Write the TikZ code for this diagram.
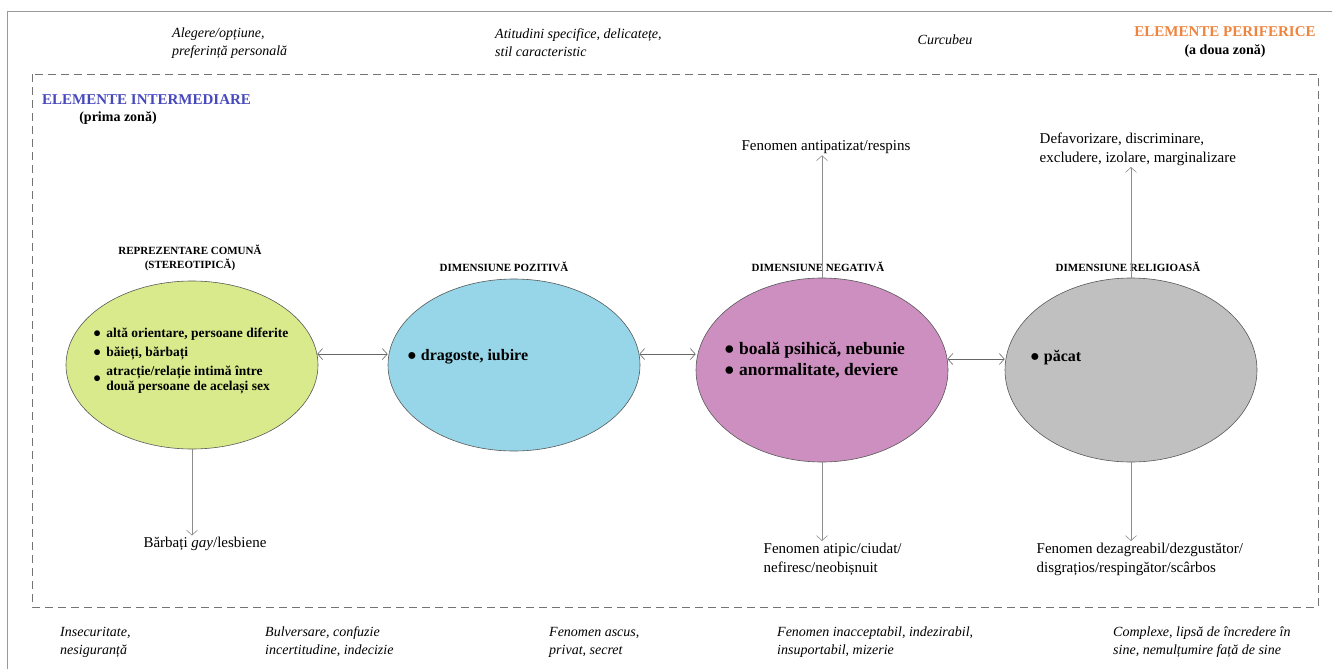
\documentclass[tikz,border=0pt]{standalone}
\usepackage{fontspec}
\setmainfont{Liberation Serif}
\usetikzlibrary{shapes.geometric,arrows.meta}
\definecolor{stereogreen}{RGB}{216,234,140}
\definecolor{posblue}{RGB}{150,214,232}
\definecolor{negpink}{RGB}{204,143,191}
\definecolor{relgray}{RGB}{192,192,192}
\definecolor{zoneblue}{RGB}{72,72,190}
\definecolor{zoneorange}{RGB}{238,132,62}
\tikzset{dim/.style={ellipse,draw=black!65,line width=0.6pt,minimum width=252pt,minimum height=172pt}}
\tikzset{ttl/.style={font=\bfseries\fontsize{11}{14}\selectfont,align=center,inner sep=0pt}}
\tikzset{itm/.style={font=\bfseries\fontsize{16}{21}\selectfont,align=left,anchor=west,inner sep=0pt}}
\tikzset{lbl/.style={font=\fontsize{15}{19}\selectfont,align=left,inner sep=1.5pt}}
\tikzset{per/.style={font=\itshape\fontsize{14}{18}\selectfont,align=left,anchor=west,inner sep=0pt}}
\tikzset{zone/.style={font=\bfseries\fontsize{15}{18}\selectfont,inner sep=0pt}}
\tikzset{arr/.style={draw=black!45,line width=0.6pt,-{Straight Barb[length=5pt,width=11pt]}}}
\tikzset{harr/.style={draw=black!60,line width=0.6pt,{Straight Barb[length=5pt,width=11pt]}-{Straight Barb[length=5pt,width=11pt]}}}

\begin{document}
\begin{tikzpicture}[x=1pt,y=-1pt]
      \useasboundingbox (0,0) rectangle (1332,669);
      % frames
      \draw[black!40,line width=1pt] (7,669) -- (7,12) -- (1332,12);
      \draw[black!55,line width=0.7pt,dash pattern=on 8pt off 5pt] (32,74) rectangle (1318,607);
      % peripheral elements
      \node[per] (alegere) at (172,43) {Alegere/opțiune,\\preferință personală};
      \node[per] (atitud) at (495,43) {Atitudini specifice, delicatețe,\\stil caracteristic};
      \node[per,anchor=center] (curcub) at (945,40) {Curcubeu};
      \node[zone,text=zoneorange] (periferic) at (1225,32) {ELEMENTE PERIFERICE};
      \node[zone,font=\bfseries\fontsize{14}{17}\selectfont] (doua) at (1225,51) {(a doua zonă)};
      \node[per] (insecur) at (60,642) {Insecuritate,\\nesiguranță};
      \node[per] (bulvers) at (265,642) {Bulversare, confuzie\\incertitudine, indecizie};
      \node[per] (ascus) at (549,642) {Fenomen ascus,\\privat, secret};
      \node[per] (inacc) at (777,642) {Fenomen inacceptabil, indezirabil,\\insuportabil, mizerie};
      \node[per] (complexe) at (1113,642) {Complexe, lipsă de încredere în\\sine, nemulțumire față de sine};
      % intermediate elements
      \node[zone,text=zoneblue,anchor=west] (intermed) at (42,100) {ELEMENTE INTERMEDIARE};
      \node[zone,font=\bfseries\fontsize{14}{17}\selectfont] (prima) at (118,118) {(prima zonă)};
      % dimensions
      \node[dim,fill=stereogreen,minimum height=168pt] (stereo) at (192,365) {};
      \node[dim,fill=posblue] (pozitiv) at (514,365) {};
      \node[dim,fill=negpink,minimum height=184pt] (negativ) at (822,370) {};
      \node[dim,fill=relgray,minimum height=184pt] (religios) at (1131,370) {};
      \node[ttl] (stereottl) at (190,258) {REPREZENTARE COMUNĂ\\(STEREOTIPICĂ)};
      \node[ttl] (pozttl) at (504,267) {DIMENSIUNE POZITIVĂ};
      \node[ttl] (negttl) at (818,267) {DIMENSIUNE NEGATIVĂ};
      \node[ttl] (relttl) at (1128,267) {DIMENSIUNE RELIGIOASĂ};
      \node[itm,font=\bfseries\fontsize{13.5}{18}\selectfont] (stereoitm) at (93,360)
        {\begin{tabular}{@{}l@{\hspace{5pt}}l@{}}
         ● & altă orientare, persoane diferite\\[1pt]
         ● & băieți, bărbați\\[1pt]
         ● & \begin{tabular}[c]{@{}l@{}}atracție/relație intimă între\\[-3pt] două persoane de același sex\end{tabular}
         \end{tabular}};
      \node[itm] (pozitm) at (407,357) {● dragoste, iubire};
      \node[itm,font=\bfseries\fontsize{17.5}{21}\selectfont] (negitm) at (724,360) {● boală psihică, nebunie\\● anormalitate, deviere};
      \node[itm] (relitm) at (1030,358) {● păcat};
      % consequences
      \node[lbl] (gay) at (205,544) {Bărbați \textit{gay}/lesbiene};
      \node[lbl] (antip) at (826,147) {Fenomen antipatizat/respins};
      \node[lbl,anchor=north west] (atipic) at (762,541) {Fenomen atipic/ciudat/\\nefiresc/neobișnuit};
      \node[lbl,anchor=south west] (defav) at (1038,167) {Defavorizare, discriminare,\\excludere, izolare, marginalizare};
      \node[lbl,anchor=north west] (dezagr) at (1035,541) {Fenomen dezagreabil/dezgustător/\\disgrațios/respingător/scârbos};
      \foreach \a/\b in {stereo/pozitiv,pozitiv/negativ,negativ/religios}
        \draw[harr] (\a.5) -- (\a.5 -| \b.west);
      \foreach \a/\s/\b/\t in {stereo/south/gay/north,negativ/north/antip/south,negativ/south/atipic/north,religios/north/defav/south,religios/south/dezagr/north}
        \draw[arr] (\a.\s) -- (\a.\s |- \b.\t);
    \end{tikzpicture}
\end{document}
